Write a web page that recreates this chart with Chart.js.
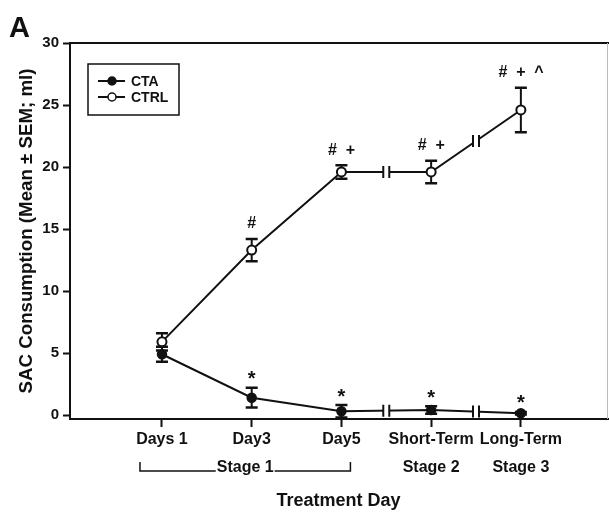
<!DOCTYPE html>
<html lang="en">
<head>
  <meta charset="UTF-8">
  <title>SAC Consumption</title>
  <script src="https://cdn.jsdelivr.net/npm/chart.js"></script>
  <style>
    body { margin: 0; background: #fff; }
    canvas { display: block; }
  </style>
</head>
<body>
  <canvas id="sacChart" width="609" height="512"></canvas>

  <script>
    // values
    const days = ['Days 1', 'Day3', 'Day5', 'Short-Term', 'Long-Term'];
    const ctaMean = [4.9, 1.4, 0.3, 0.4, 0.15];
    const ctaSem = [0.6, 0.8, 0.5, 0.3, 0.1];
    const ctrlMean = [5.9, 13.3, 19.6, 19.6, 24.6];
    const ctrlSem = [0.7, 0.9, 0.55, 0.9, 1.8];
    const ctaMarks = ['', '*', '*', '*', '*'];
    const ctrlMarks = ['', '#', '# +', '# +', '# + ^'];
    const breakAt = [2.5, 3.5];
    const stageLabels = ['Stage 1', 'Stage 2', 'Stage 3'];
    const stageFrom = [0, 3, 4];
    const stageTo = [2, 3, 4];

    const FONT = 'Arial, "Liberation Sans", sans-serif';
    const toPoints = arr => arr.map((v, i) => ({ x: i, y: v }));

    const extras = {
      id: 'extras',
      beforeDatasetsDraw(chart) {
        const ctx = chart.ctx, xs = chart.scales.x, ys = chart.scales.y;
        ctx.save();
        ctx.strokeStyle = '#111';
        chart.data.datasets.forEach(ds => {
          ds.sem.forEach((s, i) => {
            const x = xs.getPixelForValue(i);
            const top = ys.getPixelForValue(ds.data[i].y + s);
            const bot = ys.getPixelForValue(ds.data[i].y - s);
            ctx.lineWidth = 2;
            ctx.beginPath();
            ctx.moveTo(x, top); ctx.lineTo(x, bot);
            ctx.stroke();
            ctx.lineWidth = 2.5;
            ctx.beginPath();
            ctx.moveTo(x - 6, top); ctx.lineTo(x + 6, top);
            ctx.moveTo(x - 6, bot); ctx.lineTo(x + 6, bot);
            ctx.stroke();
          });
        });
        ctx.restore();
      },
      afterDatasetsDraw(chart) {
        const ctx = chart.ctx, xs = chart.scales.x, ys = chart.scales.y;
        const area = chart.chartArea;
        ctx.save();

        // frame: top and bottom run to the edge, thin grey right side
        ctx.strokeStyle = '#111';
        ctx.lineWidth = 2;
        ctx.beginPath();
        ctx.moveTo(area.left - 1, area.top); ctx.lineTo(chart.width, area.top);
        ctx.moveTo(area.right, area.bottom); ctx.lineTo(chart.width, area.bottom);
        ctx.stroke();
        ctx.strokeStyle = '#bbb';
        ctx.lineWidth = 1;
        ctx.beginPath();
        ctx.moveTo(area.right + 0.5, area.top); ctx.lineTo(area.right + 0.5, area.bottom);
        ctx.stroke();

        // axis break marks on the lines
        chart.data.datasets.forEach(ds => {
          breakAt.forEach(b => {
            const i0 = Math.floor(b), i1 = Math.ceil(b);
            const x = xs.getPixelForValue(b);
            const y0 = ys.getPixelForValue(ds.data[i0].y);
            const y1 = ys.getPixelForValue(ds.data[i1].y);
            const y = (y0 + y1) / 2;
            ctx.fillStyle = '#fff';
            ctx.fillRect(x - 3, y - 5, 6, 10);
            ctx.strokeStyle = '#111';
            ctx.lineWidth = 2;
            ctx.beginPath();
            ctx.moveTo(x - 3, y - 6); ctx.lineTo(x - 3, y + 6);
            ctx.moveTo(x + 3, y - 6); ctx.lineTo(x + 3, y + 6);
            ctx.stroke();
          });
        });

        // significance marks
        ctx.fillStyle = '#111';
        ctx.textAlign = 'center';
        ctx.textBaseline = 'middle';
        chart.data.datasets.forEach(ds => {
          ds.marks.forEach((m, i) => {
            if (!m) return;
            const parts = m.split(' ');
            const x = xs.getPixelForValue(i);
            const y = ys.getPixelForValue(ds.data[i].y + ds.sem[i]) - ds.markGap;
            parts.forEach((p, k) => {
              ctx.font = 'bold ' + (p === '*' ? 20 : 16) + 'px ' + FONT;
              ctx.fillText(p, x + (k - (parts.length - 1) / 2) * 18, y + (p === '*' ? 4 : 0));
            });
          });
        });

        // legend box
        const lx = area.left + 18, ly = area.top + 21;
        ctx.strokeStyle = '#111';
        ctx.lineWidth = 1.5;
        ctx.strokeRect(lx, ly, 91, 51);
        ctx.font = 'bold 14px ' + FONT;
        ctx.textAlign = 'left';
        chart.data.datasets.forEach((ds, k) => {
          const y = ly + 17 + k * 16;
          ctx.strokeStyle = '#111';
          ctx.lineWidth = 2;
          ctx.beginPath();
          ctx.moveTo(lx + 10, y); ctx.lineTo(lx + 37, y);
          ctx.stroke();
          ctx.beginPath();
          ctx.arc(lx + 24, y, 4, 0, Math.PI * 2);
          ctx.fillStyle = ds.pointBackgroundColor;
          ctx.fill();
          ctx.lineWidth = 1.5;
          ctx.stroke();
          ctx.fillStyle = '#111';
          ctx.fillText(ds.label, lx + 43, y + 1);
        });

        // stage labels under the x axis
        ctx.font = 'bold 16px ' + FONT;
        ctx.textAlign = 'center';
        stageLabels.forEach((s, k) => {
          const y = 468;
          if (stageFrom[k] === stageTo[k]) {
            ctx.fillText(s, xs.getPixelForValue(stageFrom[k]), y);
            return;
          }
          const a = xs.getPixelForValue(stageFrom[k]) - 22;
          const b = xs.getPixelForValue(stageTo[k]) + 9;
          const mid = (a + b) / 2;
          const w = ctx.measureText(s).width;
          ctx.fillText(s, mid, y);
          ctx.lineWidth = 1.5;
          ctx.beginPath();
          ctx.moveTo(a, y - 6); ctx.lineTo(a, y + 3); ctx.lineTo(mid - w / 2 - 1, y + 3);
          ctx.moveTo(mid + w / 2 + 1, y + 3); ctx.lineTo(b, y + 3); ctx.lineTo(b, y - 6);
          ctx.stroke();
        });

        // panel letter
        ctx.font = 'bold 29px ' + FONT;
        ctx.textAlign = 'left';
        ctx.textBaseline = 'alphabetic';
        ctx.fillText('A', 9, 37);
        ctx.restore();
      }
    };

    new Chart(document.getElementById('sacChart'), {
      type: 'line',
      data: {
        datasets: [{
          label: 'CTA',
          data: toPoints(ctaMean),
          sem: ctaSem,
          marks: ctaMarks,
          markGap: 12,
          borderColor: '#111',
          borderWidth: 2,
          pointRadius: 4.5,
          pointBackgroundColor: '#111',
          pointBorderColor: '#111',
          pointBorderWidth: 1.5
        }, {
          label: 'CTRL',
          data: toPoints(ctrlMean),
          sem: ctrlSem,
          marks: ctrlMarks,
          markGap: 15,
          borderColor: '#111',
          borderWidth: 2,
          pointRadius: 4.5,
          pointBackgroundColor: '#fff',
          pointBorderColor: '#111',
          pointBorderWidth: 2
        }]
      },
      options: {
        responsive: false,
        animation: false,
        layout: { autoPadding: false, padding: { top: 43, right: 2, left: 0, bottom: 0 } },
        plugins: { legend: { display: false }, tooltip: { enabled: false } },
        scales: {
          x: {
            type: 'linear',
            min: -1.025,
            max: 4.96,
            afterBuildTicks: axis => { axis.ticks = days.map((d, i) => ({ value: i })); },
            afterFit: axis => {
              axis.height = 93;
              axis.paddingLeft = 0;
              axis.paddingRight = 0;
            },
            ticks: {
              autoSkip: false,
              maxRotation: 0,
              padding: 3,
              color: '#111',
              font: { family: FONT, size: 16, weight: 'bold' },
              callback: v => days[v]
            },
            grid: { drawOnChartArea: false, tickLength: 8, tickColor: '#111', tickWidth: 2 },
            border: { color: '#111', width: 2 },
            title: {
              display: true,
              text: 'Treatment Day',
              color: '#111',
              padding: { top: 0, bottom: 0 },
              font: { family: FONT, size: 18, weight: 'bold' }
            }
          },
          y: {
            min: -0.32,
            max: 30,
            afterFit: axis => { axis.width = 70; },
            ticks: {
              stepSize: 5,
              includeBounds: false,
              padding: 4,
              color: '#111',
              font: { family: FONT, size: 15, weight: 'bold' }
            },
            grid: { drawOnChartArea: false, tickLength: 7, tickColor: '#111', tickWidth: 2 },
            border: { color: '#111', width: 2 },
            title: {
              display: true,
              text: 'SAC Consumption (Mean ± SEM; ml)',
              color: '#111',
              padding: { top: 16, bottom: 0 },
              font: { family: FONT, size: 18.7, weight: 'bold' }
            }
          }
        }
      },
      plugins: [extras]
    });
  </script>
</body>
</html>
